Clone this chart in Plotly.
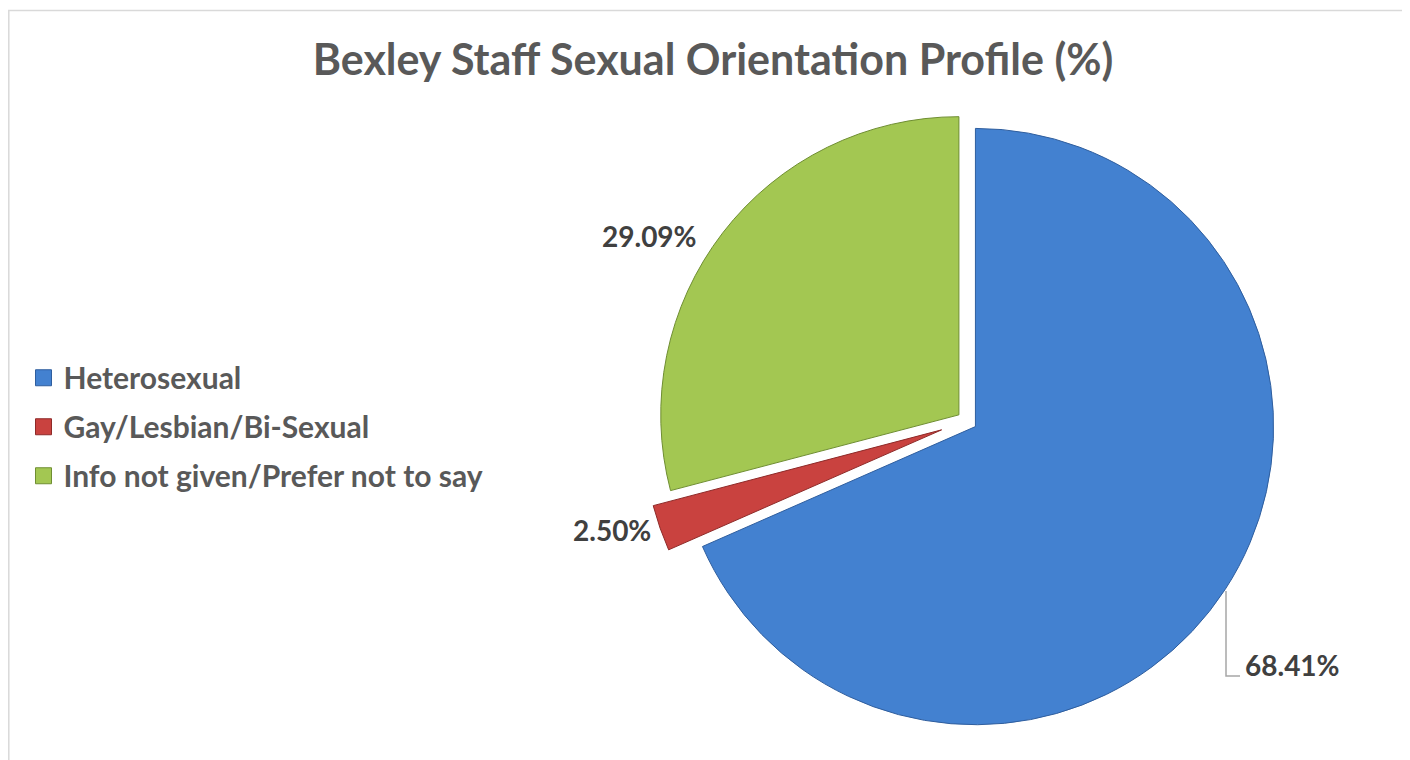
import plotly.graph_objects as go

# ---- data ----
categories = ["Heterosexual", "Gay/Lesbian/Bi-Sexual", "Info not given/Prefer not to say"]
percentages = [68.41, 2.50, 29.09]
slice_colors = ["#4381D0", "#C9423F", "#A3C752"]
edge_colors = ["#2F5E9E", "#8E2A28", "#6F8E32"]
explode = [0.034, 0.09, 0.034]
title_text = "Bexley Staff Sexual Orientation Profile (%)"

# label placement (page-pixel positions of the data labels)
label_pos_px = [(1292, 665), (612, 530), (649, 236)]

W, H = 1410, 760
PAGE_OFFSET = 8  # default body margin of the written html page
FONT = "Lato"
TEXT_GREY = "#595959"
LABEL_GREY = "#404040"


def px(x):
    return (x - PAGE_OFFSET) / W


def py(y):
    return 1 - (y - PAGE_OFFSET) / H


fig = go.Figure()

fig.add_trace(go.Pie(
    labels=categories,
    values=percentages,
    sort=False,
    direction="clockwise",
    rotation=0,
    pull=explode,
    marker=dict(colors=slice_colors, line=dict(color=edge_colors, width=1)),
    textinfo="none",
    automargin=False,
    showlegend=False,
    hoverinfo="label+value",
    domain=dict(x=[0.4496, 0.9106], y=[0.0289, 0.8842]),
))

# legend entries (one per slice, square swatches)
for name, col, edge in zip(categories, slice_colors, edge_colors):
    fig.add_trace(go.Scatter(
        x=[None], y=[None], mode="markers", name=name, legendgroup=name,
        marker=dict(symbol="square", size=17, color=col, line=dict(color=edge, width=1)),
        hoverinfo="skip",
    ))

annotations = []
for val, (lx, ly) in zip(percentages, label_pos_px):
    annotations.append(dict(
        x=px(lx), y=py(ly), xref="paper", yref="paper",
        text=f"{val:.2f}%", showarrow=False, xanchor="center", yanchor="middle",
        font=dict(family=FONT, size=28, color=LABEL_GREY, weight="bold"),
    ))

leader = (f"M {px(1226)},{py(591)} L {px(1226)},{py(676)} L {px(1240)},{py(676)}")

fig.update_layout(
    width=W, height=H,
    margin=dict(l=0, r=0, t=0, b=0),
    paper_bgcolor="white", plot_bgcolor="white",
    font=dict(family=FONT, color=TEXT_GREY),
    title=dict(
        text=title_text, x=0.5, xanchor="center", y=0.931, yanchor="middle",
        font=dict(family=FONT, size=43, color=TEXT_GREY, weight="bold"),
    ),
    xaxis=dict(visible=False), yaxis=dict(visible=False),
    showlegend=True,
    legend=dict(
        x=0.011, xanchor="left", y=0.449, yanchor="middle",
        font=dict(family=FONT, size=30, color=TEXT_GREY, weight="bold"),
        tracegroupgap=7, itemwidth=30, bgcolor="rgba(0,0,0,0)",
    ),
    annotations=annotations,
    shapes=[
        dict(type="rect", xref="paper", yref="paper",
             x0=0.8 / W, x1=1.05, y0=-0.05, y1=1 - 2.5 / H,
             line=dict(color="#D9D9D9", width=1.5), fillcolor="rgba(0,0,0,0)", layer="below"),
        dict(type="path", xref="paper", yref="paper", path=leader,
             line=dict(color="#A6A6A6", width=1.5)),
    ],
)

fig.write_html("out.html")
